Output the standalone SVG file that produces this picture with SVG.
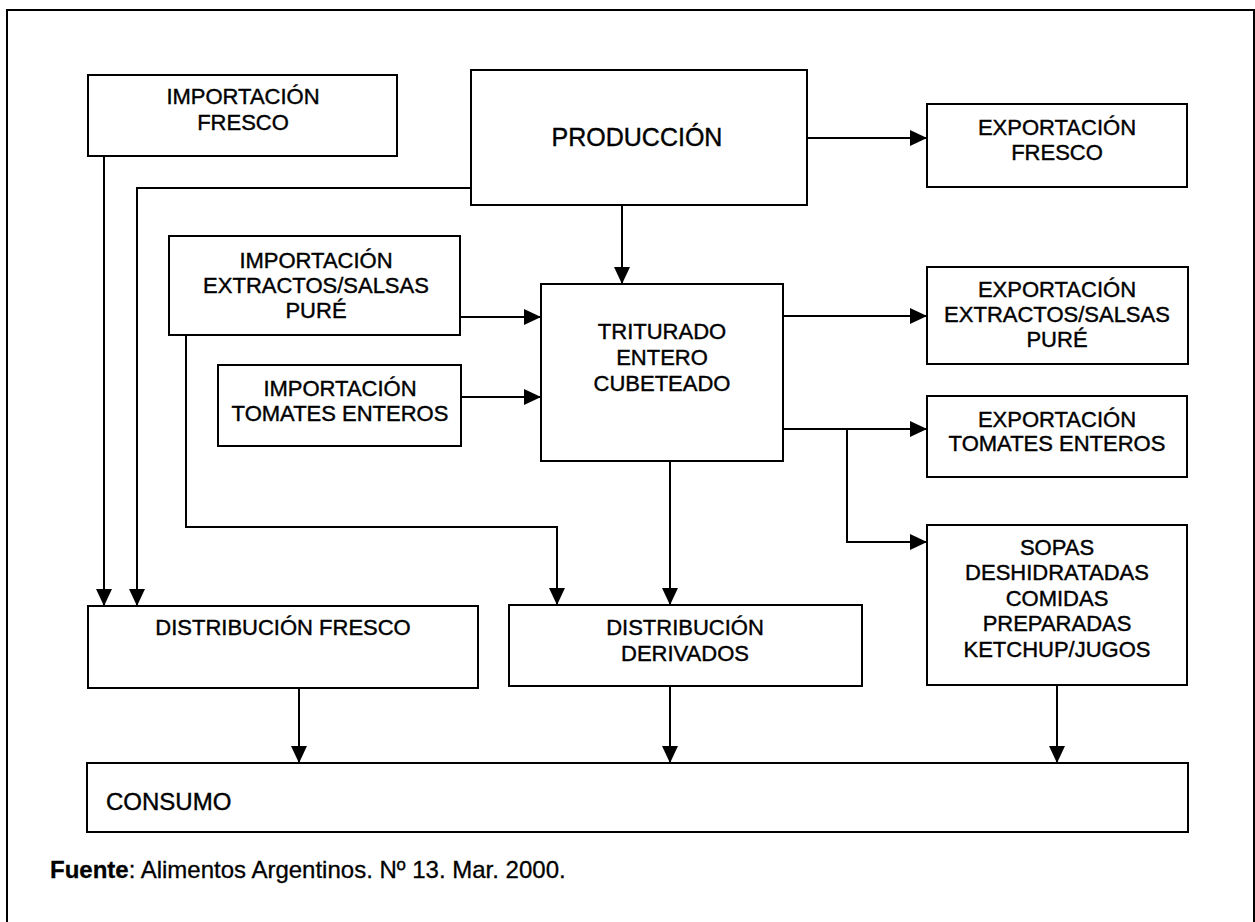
<svg xmlns="http://www.w3.org/2000/svg" width="1255" height="922" viewBox="0 0 1255 922">
<style>
.box{fill:#fff;stroke:#000;stroke-width:2}
.t{font-family:"Liberation Sans",Arial,sans-serif;font-size:22px;fill:#000;stroke:#000;stroke-width:0.4;text-anchor:middle}
.c{fill:none;stroke:#000;stroke-width:2}
</style>
<defs>
<marker id="ah" viewBox="0 0 17 16" refX="17" refY="8" markerWidth="17" markerHeight="16" markerUnits="userSpaceOnUse" orient="auto">
<path d="M0,0 L17,8 L0,16 z" fill="#000"/>
</marker>
</defs>
<rect x="0" y="0" width="1255" height="922" fill="#fff"/>
<rect x="7" y="10" width="1247" height="930" fill="none" stroke="#000" stroke-width="2"/>
<g id="connectors">
<path class="c" d="M104,156 V606" marker-end="url(#ah)"/>
<path class="c" d="M471,188 H137 V606" marker-end="url(#ah)"/>
<path class="c" d="M807,138 H927" marker-end="url(#ah)"/>
<path class="c" d="M622,205 V284" marker-end="url(#ah)"/>
<path class="c" d="M460,317 H541" marker-end="url(#ah)"/>
<path class="c" d="M461,397 H541" marker-end="url(#ah)"/>
<path class="c" d="M783,316 H927" marker-end="url(#ah)"/>
<path class="c" d="M783,429 H927" marker-end="url(#ah)"/>
<path class="c" d="M847,429 V542 H927" marker-end="url(#ah)"/>
<path class="c" d="M186,335 V527 H557 V605" marker-end="url(#ah)"/>
<path class="c" d="M670,461 V605" marker-end="url(#ah)"/>
<path class="c" d="M299,688 V763" marker-end="url(#ah)"/>
<path class="c" d="M670,686 V763" marker-end="url(#ah)"/>
<path class="c" d="M1057,685 V763" marker-end="url(#ah)"/>
</g>
<g id="imp-fresco">
<rect class="box" x="88" y="75" width="309" height="81"/>
<text class="t" x="243" y="104">IMPORTACIÓN</text>
<text class="t" x="243" y="130">FRESCO</text>
</g>
<g id="produccion">
<rect class="box" x="471" y="70" width="336" height="135"/>
<text class="t" x="637" y="146" style="font-size:25px">PRODUCCIÓN</text>
</g>
<g id="exp-fresco">
<rect class="box" x="927" y="104" width="260" height="83"/>
<text class="t" x="1057" y="135">EXPORTACIÓN</text>
<text class="t" x="1057" y="160">FRESCO</text>
</g>
<g id="imp-extractos">
<rect class="box" x="169" y="236" width="291" height="99"/>
<text class="t" x="316" y="268">IMPORTACIÓN</text>
<text class="t" x="316" y="293">EXTRACTOS/SALSAS</text>
<text class="t" x="316" y="318">PURÉ</text>
</g>
<g id="triturado">
<rect class="box" x="541" y="284" width="242" height="177"/>
<text class="t" x="662" y="339">TRITURADO</text>
<text class="t" x="662" y="365">ENTERO</text>
<text class="t" x="662" y="391">CUBETEADO</text>
</g>
<g id="exp-extractos">
<rect class="box" x="927" y="267" width="261" height="97"/>
<text class="t" x="1057" y="297">EXPORTACIÓN</text>
<text class="t" x="1057" y="322">EXTRACTOS/SALSAS</text>
<text class="t" x="1057" y="347">PURÉ</text>
</g>
<g id="imp-tomates">
<rect class="box" x="218" y="365" width="243" height="81"/>
<text class="t" x="340" y="396">IMPORTACIÓN</text>
<text class="t" x="340" y="421">TOMATES ENTEROS</text>
</g>
<g id="exp-tomates">
<rect class="box" x="927" y="396" width="260" height="81"/>
<text class="t" x="1057" y="427">EXPORTACIÓN</text>
<text class="t" x="1057" y="451">TOMATES ENTEROS</text>
</g>
<g id="sopas">
<rect class="box" x="927" y="525" width="260" height="160"/>
<text class="t" x="1057" y="555">SOPAS</text>
<text class="t" x="1057" y="580">DESHIDRATADAS</text>
<text class="t" x="1057" y="606">COMIDAS</text>
<text class="t" x="1057" y="631">PREPARADAS</text>
<text class="t" x="1057" y="657">KETCHUP/JUGOS</text>
</g>
<g id="dist-fresco">
<rect class="box" x="88" y="606" width="390" height="82"/>
<text class="t" x="283" y="635">DISTRIBUCIÓN FRESCO</text>
</g>
<g id="dist-derivados">
<rect class="box" x="509" y="605" width="353" height="81"/>
<text class="t" x="685" y="635">DISTRIBUCIÓN</text>
<text class="t" x="685" y="661">DERIVADOS</text>
</g>
<g id="consumo">
<rect class="box" x="87" y="763" width="1101" height="69"/>
<text class="t" x="106" y="810" style="font-size:24px;text-anchor:start">CONSUMO</text>
</g>
<text x="50" y="878" style="font-family:'Liberation Sans',Arial,sans-serif;font-size:24px;fill:#000;stroke:#000;stroke-width:0.3"><tspan font-weight="bold">Fuente</tspan>: Alimentos Argentinos. Nº 13. Mar. 2000.</text>
</svg>
